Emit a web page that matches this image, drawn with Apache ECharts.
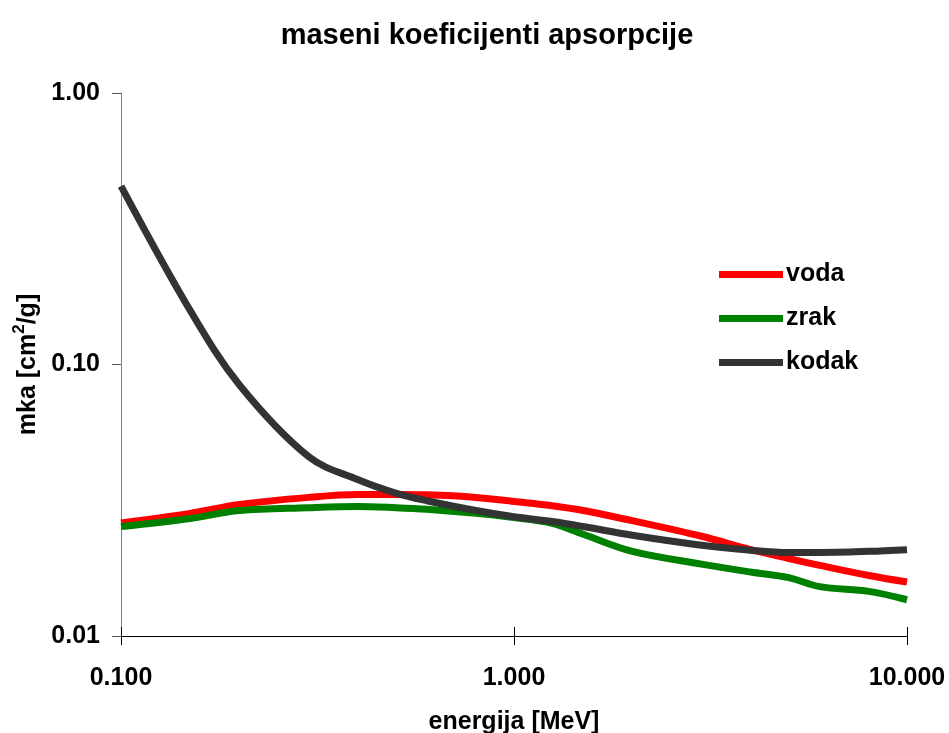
<!DOCTYPE html>
<html>
<head>
<meta charset="utf-8">
<script src="https://cdn.jsdelivr.net/npm/echarts@6/dist/echarts.min.js"></script>
<style>
html,body{margin:0;padding:0;background:#fff;}
#chart{width:949px;height:733px;}
</style>
</head>
<body>
<div id="chart"></div>
<script>
var energies = [0.1, 0.15, 0.2, 0.3, 0.4, 0.5, 0.6, 0.8, 1, 1.25, 1.5, 2, 3, 4, 5, 6, 8, 10];
var voda  = [0.0261, 0.0283, 0.0305, 0.0324, 0.0332, 0.0332, 0.0331, 0.0324, 0.0313, 0.0302, 0.0290, 0.0266, 0.0233, 0.0208, 0.0193, 0.0182, 0.0167, 0.0158];
var zrak  = [0.0253, 0.0271, 0.0290, 0.0297, 0.0300, 0.0297, 0.0293, 0.0283, 0.0273, 0.0260, 0.0237, 0.0205, 0.0184, 0.0172, 0.0164, 0.0152, 0.0146, 0.0136];
var kodak = [0.454, 0.158, 0.0842, 0.0458, 0.0377, 0.0336, 0.0315, 0.0290, 0.0275, 0.0264, 0.0253, 0.0235, 0.0216, 0.0207, 0.0203, 0.0203, 0.0205, 0.0208];
var seriesNames = ['voda', 'zrak', 'kodak'];
var seriesColors = ['#ff0000', '#008000', '#333333'];
var titleText = 'maseni koeficijenti apsorpcije';
var xName = 'energija [MeV]';

var FONT = 'Liberation Sans, Arial, sans-serif';
function pairs(arr) { return energies.map(function (e, i) { return [e, arr[i]]; }); }
var values = [voda, zrak, kodak];

var chart = echarts.init(document.getElementById('chart'), null, {renderer: 'canvas'});
chart.setOption({
  animation: false,
  backgroundColor: '#ffffff',
  title: {
    text: titleText,
    left: 482, top: 16, textAlign: 'center',
    textStyle: {fontFamily: FONT, fontSize: 29, fontWeight: 'bold', color: '#000'}
  },
  legend: {
    data: seriesNames,
    orient: 'vertical',
    left: 719, top: 262,
    itemWidth: 64, itemHeight: 7, itemGap: 19,
    icon: 'rect',
    padding: 0,
    textStyle: {fontFamily: FONT, fontSize: 25, fontWeight: 'bold', color: '#000', padding: [0, 0, 0, -2]}
  },
  grid: {left: 121, right: 42, top: 93, bottom: 97, containLabel: false, outerBoundsMode: 'none'},
  xAxis: [{
    type: 'log', logBase: 10, min: 0.1, max: 10,
    axisLine: {lineStyle: {color: '#000', width: 1}},
    axisTick: {show: true, inside: false, length: 9, lineStyle: {color: '#000'}},
    minorTick: {show: false},
    splitLine: {show: false},
    axisLabel: {
      formatter: function (v) { return Number(v).toFixed(3); },
      margin: 30,
      fontFamily: FONT, fontSize: 25, fontWeight: 'bold', color: '#000'
    },
    name: xName, nameLocation: 'middle', nameGap: 74,
    nameTextStyle: {fontFamily: FONT, fontSize: 25, fontWeight: 'bold', color: '#000'}
  }, {
    type: 'log', logBase: 10, min: 0.1, max: 10, position: 'bottom',
    axisLine: {show: false},
    axisTick: {show: true, inside: true, length: 9, lineStyle: {color: '#000'}},
    axisLabel: {show: false},
    splitLine: {show: false}
  }],
  yAxis: {
    type: 'log', logBase: 10, min: 0.01, max: 1,
    axisLine: {show: true, lineStyle: {color: '#808080', width: 1}},
    axisTick: {show: true, inside: false, length: 9, lineStyle: {color: '#555'}},
    minorTick: {show: false},
    splitLine: {show: false},
    axisLabel: {
      formatter: function (v) { return Number(v).toFixed(2); },
      margin: 21,
      fontFamily: FONT, fontSize: 25, fontWeight: 'bold', color: '#000'
    },
    name: '{a|mka [cm}{s|2}{a|/g]}',
    nameLocation: 'middle', nameRotate: 90, nameGap: 75,
    nameTextStyle: {
      rich: {
        a: {fontFamily: FONT, fontSize: 25, fontWeight: 'bold', color: '#000', lineHeight: 30, verticalAlign: 'bottom'},
        s: {fontFamily: FONT, fontSize: 17, fontWeight: 'bold', color: '#000', lineHeight: 30, verticalAlign: 'top'}
      }
    }
  },
  series: seriesNames.map(function (n, i) {
    return {
      name: n, type: 'line', xAxisIndex: 0,
      data: pairs(values[i]),
      smooth: 0.35,
      showSymbol: false, symbol: 'none',
      lineStyle: {color: seriesColors[i], width: 7},
      itemStyle: {color: seriesColors[i]},
      z: 2 + i
    };
  })
});
</script>
</body>
</html>
